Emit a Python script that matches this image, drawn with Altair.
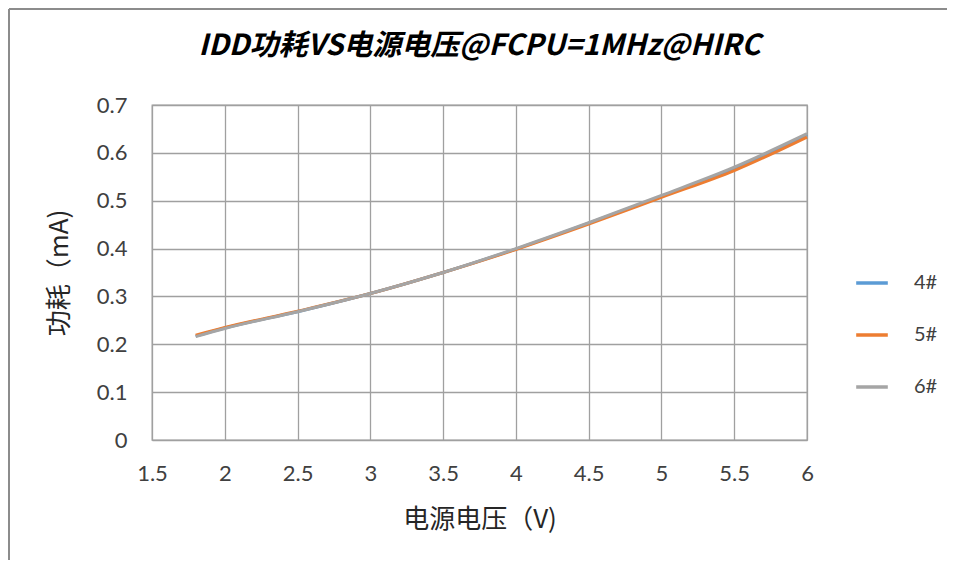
import altair as alt
import pandas as pd

voltage = [1.8, 2.0, 2.5, 3.0, 3.5, 4.0, 4.5, 5.0, 5.5, 6.0]
s4 = [0.217, 0.234, 0.268, 0.306, 0.350, 0.399, 0.453, 0.509, 0.568, 0.638]
s5 = [0.219, 0.235, 0.269, 0.306, 0.350, 0.398, 0.451, 0.507, 0.563, 0.633]
s6 = [0.216, 0.233, 0.268, 0.306, 0.350, 0.400, 0.454, 0.511, 0.570, 0.640]
series = ["4#", "5#", "6#"]
colors = ["#5B9BD5", "#ED7D31", "#A5A5A5"]
x_ticks = [1.5, 2, 2.5, 3, 3.5, 4, 4.5, 5, 5.5, 6]
y_ticks = [0, 0.1, 0.2, 0.3, 0.4, 0.5, 0.6, 0.7]

rows = []
for name, vals in zip(series, [s4, s5, s6]):
    for v, i in zip(voltage, vals):
        rows.append({"V": v, "I": i, "s": name})
df = pd.DataFrame(rows)

cjk = "Noto Sans CJK SC"
num = "Lato"

lines = alt.Chart(df).mark_line(strokeWidth=3, interpolate="monotone").encode(
    x=alt.X("V:Q", scale=alt.Scale(domain=[1.5, 6], nice=False, zero=False),
            axis=alt.Axis(values=x_ticks, format="~g", labelFlush=False,
                          title="电源电压（V)", titlePadding=22, labelPadding=23)),
    y=alt.Y("I:Q", scale=alt.Scale(domain=[0, 0.7], nice=False),
            axis=alt.Axis(values=y_ticks, format="~g", labelFlush=False,
                          title="功耗（mA)", titlePadding=24, labelPadding=25)),
    color=alt.Color("s:N", scale=alt.Scale(domain=series, range=colors),
                    legend=alt.Legend(title=None, orient="none", legendX=702, legendY=160,
                                      symbolType="stroke", symbolStrokeWidth=3.5, symbolSize=1000,
                                      rowPadding=24, labelFontSize=20, labelFont=num,
                                      labelColor="#404040", labelOffset=24)),
    order=alt.Order("s:N"),
)

frame_top = alt.Chart(df).mark_rule(color="#8c8c8c", strokeWidth=2).encode(
    x=alt.value(-143), x2=alt.value(840), y=alt.value(-96))
frame_left = alt.Chart(df).mark_rule(color="#8c8c8c", strokeWidth=2).encode(
    x=alt.value(-143), y=alt.value(-96), y2=alt.value(480))

chart = alt.layer(lines, frame_top, frame_left).properties(
    width=655, height=335,
    padding={"left": 144, "top": 97, "right": 140, "bottom": 120},
    autosize=alt.AutoSizeParams(type="none"),
    title=alt.TitleParams("IDD功耗VS电源电压@FCPU=1MHz@HIRC", font=cjk, fontSize=29,
                          fontStyle="italic", fontWeight="bold", color="#000000",
                          anchor="middle", frame="group", offset=0, dy=53),
).configure_axis(
    labelFont=num, labelFontSize=22, labelColor="#404040", titleFont=cjk,
    titleFontSize=26, titleFontWeight="normal", titleColor="#262626",
    grid=True, gridColor="#a0a0a0", gridWidth=1.3, domain=False, ticks=False,
).configure_view(stroke="#a0a0a0", strokeWidth=1.3)

chart.save("out.html", embed_options={"renderer": "svg", "actions": False})
